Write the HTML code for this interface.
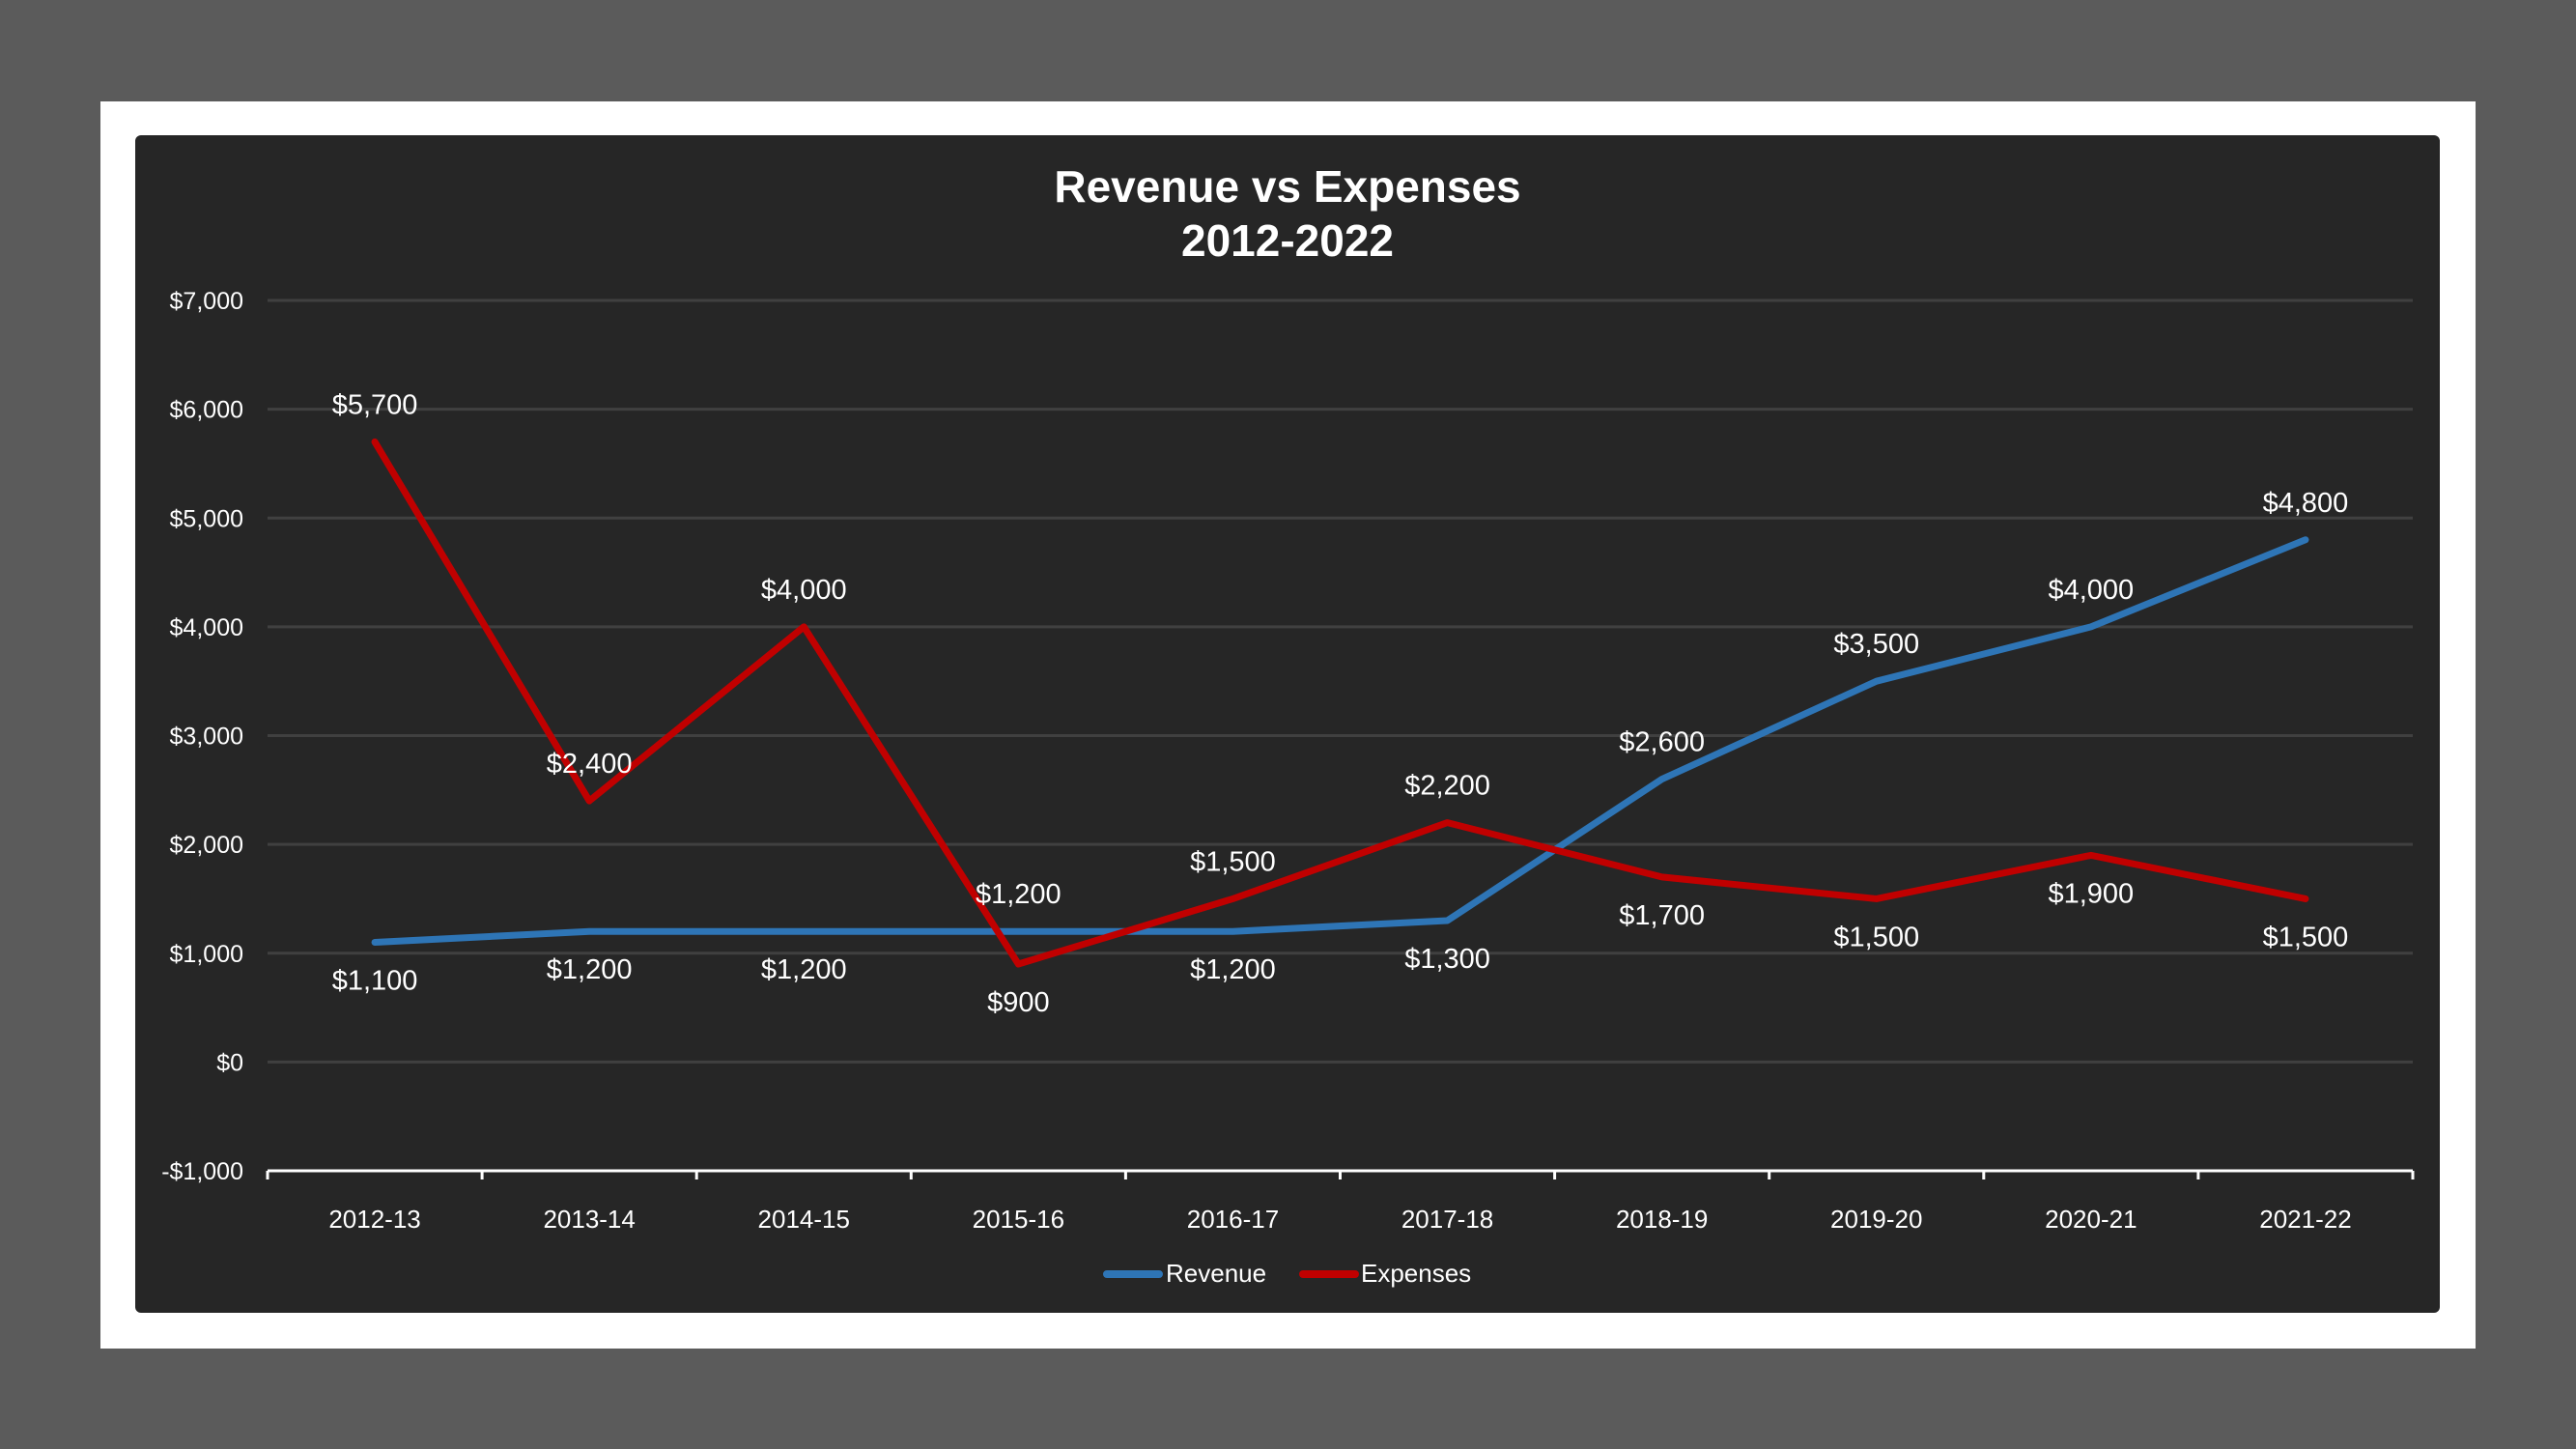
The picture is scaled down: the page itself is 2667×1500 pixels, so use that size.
<!DOCTYPE html>
<html><head><meta charset="utf-8"><style>
html,body{margin:0;padding:0;width:2667px;height:1500px;overflow:hidden;background:#5b5b5b;}
svg{display:block;font-family:"Liberation Sans",Arial,sans-serif;}
</style></head><body>
<svg id="chart" width="2667" height="1500">
<rect x="104" y="105" width="2459" height="1291" fill="#ffffff"/>
<rect x="140" y="140" width="2386" height="1219" rx="6" fill="#262626"/>
<text x="1333" y="209" text-anchor="middle" font-size="46" font-weight="bold" fill="#fff">Revenue vs Expenses</text>
<text x="1333" y="265" text-anchor="middle" font-size="46" font-weight="bold" fill="#fff">2012-2022</text>
<g id="grid"></g><g id="lines"></g><g id="labels"></g>
<g>
<line x1="1146" y1="1319" x2="1200" y2="1319" stroke="#2E75B6" stroke-width="8" stroke-linecap="round"/>
<text x="1207" y="1327" font-size="26" fill="#fff">Revenue</text>
<line x1="1349" y1="1319" x2="1403" y2="1319" stroke="#C00000" stroke-width="8" stroke-linecap="round"/>
<text x="1409" y="1327" font-size="26" fill="#fff">Expenses</text>
</g>
</svg>
<script>
const categories=["2012-13","2013-14","2014-15","2015-16","2016-17","2017-18","2018-19","2019-20","2020-21","2021-22"];
const revenue=[1100,1200,1200,1200,1200,1300,2600,3500,4000,4800];
const expenses=[5700,2400,4000,900,1500,2200,1700,1500,1900,1500];
const yTicks=[-1000,0,1000,2000,3000,4000,5000,6000,7000];
const NS="http://www.w3.org/2000/svg";
const left=277,right=2498,yTop=311,yBot=1212,yMin=-1000,yMax=7000;
const band=(right-left)/categories.length;
const xs=i=>left+band*(i+0.5);
const ys=v=>yBot-(v-yMin)/(yMax-yMin)*(yBot-yTop);
const fmt=v=>(v<0?"-$":"$")+Math.abs(v).toLocaleString("en-US");
function mk(tag,attrs,parent){const e=document.createElementNS(NS,tag);for(const k in attrs)e.setAttribute(k,attrs[k]);parent.appendChild(e);return e;}
const grid=document.getElementById('grid');
yTicks.forEach(v=>{
  if(v!==yMin){const g=mk('line',{x1:left,x2:right,y1:ys(v),y2:ys(v),stroke:'#404040','stroke-width':3},grid);
  
  }
  const t=mk('text',{x:252,y:ys(v)+9,'text-anchor':'end','font-size':25,fill:'#fff'},grid);
  t.textContent=fmt(v);
  
  
});
const ax=mk('line',{x1:left,x2:right,y1:yBot,y2:yBot,stroke:'#fff','stroke-width':3},grid);


for(let i=0;i<=categories.length;i++){
  const tk=mk('line',{x1:left+band*i,x2:left+band*i,y1:yBot,y2:yBot+9,stroke:'#fff','stroke-width':3},grid);
  
  
}
categories.forEach((c,i)=>{
  const t=mk('text',{x:xs(i),y:1271,'text-anchor':'middle','font-size':26,fill:'#fff'},grid);
  t.textContent=c;
  
  
});
const lines=document.getElementById('lines');
[[revenue,'#2E75B6','revenue-line'],[expenses,'#C00000','expenses-line']].forEach(([d,col,nm])=>{
  const p=mk('polyline',{points:d.map((v,i)=>xs(i)+','+ys(v)).join(' '),fill:'none',stroke:col,'stroke-width':7,'stroke-linejoin':'round','stroke-linecap':'round'},lines);
  
  
});
const labels=document.getElementById('labels');
categories.forEach((c,i)=>{
  [[revenue[i],expenses[i],'revenue-label'],[expenses[i],revenue[i],'expenses-label']].forEach(([v,o,nm])=>{
    const above=v>o;
    const t=mk('text',{x:xs(i),y:ys(v)+(above?-29:49),'text-anchor':'middle','font-size':29,fill:'#fff'},labels);
    t.textContent=fmt(v);
    
    
  });
});
</script>
</body></html>
